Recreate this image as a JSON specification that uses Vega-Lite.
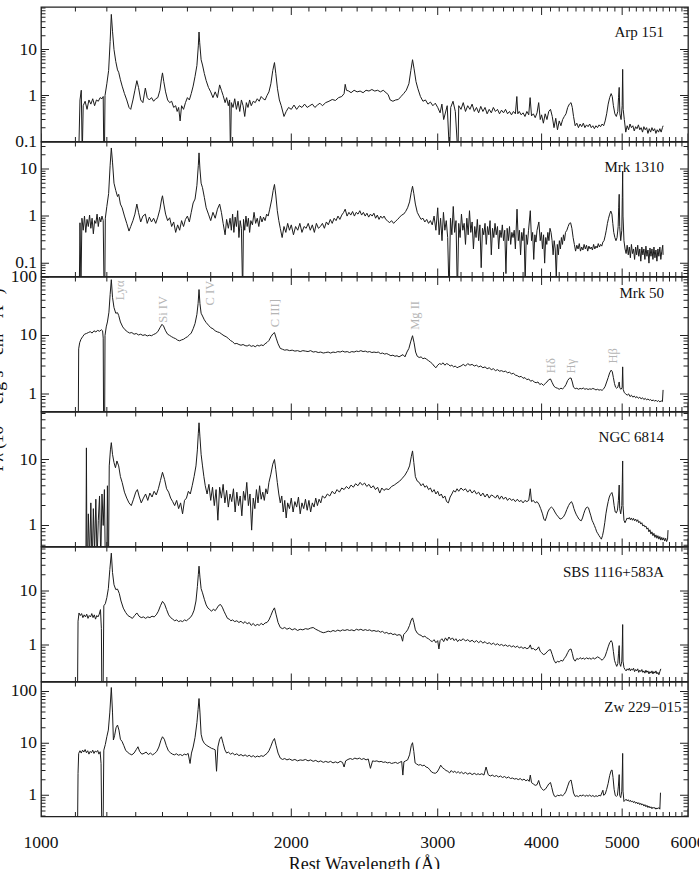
{
"$schema":"https://vega.github.io/schema/vega-lite/v6.json",
"background":"white",
"padding":{"left":-12,"top":6,"right":0,"bottom":0},
"bounds":"flush",
"spacing":0,
"config":{
 "view":{"stroke":"#222","strokeWidth":1.3},
 "font":"Liberation Serif",
 "title":{"font":"Liberation Serif","fontWeight":"normal","fontSize":15,"anchor":"end","color":"#111","offset":-33,"dx":-24}
},
"datasets":{
"xt":[{"v":1000},{"v":1100},{"v":1200},{"v":1300},{"v":1400},{"v":1500},{"v":1600},{"v":1700},{"v":1800},{"v":1900},{"v":2000},{"v":2100},{"v":2200},{"v":2300},{"v":2400},{"v":2500},{"v":2600},{"v":2700},{"v":2800},{"v":2900},{"v":3000},{"v":3100},{"v":3200},{"v":3300},{"v":3400},{"v":3500},{"v":3600},{"v":3700},{"v":3800},{"v":3900},{"v":4000},{"v":4100},{"v":4200},{"v":4300},{"v":4400},{"v":4500},{"v":4600},{"v":4700},{"v":4800},{"v":4900},{"v":5000},{"v":5100},{"v":5200},{"v":5300},{"v":5400},{"v":5500},{"v":5600},{"v":5700},{"v":5800},{"v":5900},{"v":6000}],
"yt":[{"v":0.06},{"v":0.07},{"v":0.08},{"v":0.09},{"v":0.1},{"v":0.2},{"v":0.3},{"v":0.4},{"v":0.5},{"v":0.6},{"v":0.7},{"v":0.8},{"v":0.9},{"v":1},{"v":2},{"v":3},{"v":4},{"v":5},{"v":6},{"v":7},{"v":8},{"v":9},{"v":10},{"v":20},{"v":30},{"v":40},{"v":50},{"v":60},{"v":70},{"v":80},{"v":90},{"v":100}],
"ylab":[{"v":0.1},{"v":1},{"v":10},{"v":100}],
"xlab":[{"v":1000},{"v":2000},{"v":3000},{"v":4000},{"v":5000},{"v":6000}],
"lines":[{"t":"Lyα","w":1245,"f":59},{"t":"Si IV","w":1402,"f":28},{"t":"C IV","w":1597,"f":53},{"t":"C III]","w":1914,"f":24},{"t":"Mg II","w":2821,"f":22},{"t":"Hδ","w":4106,"f":3.04},{"t":"Hγ","w":4340,"f":2.98},{"t":"Hβ","w":4875,"f":4.5}],
"arp":[{"w":1110,"f":0.05},{"w":1114,"f":0.8},{"w":1118,"f":1.3},{"w":1121,"f":0.05},{"w":1124,"f":0.6},{"w":1130,"f":0.75},{"w":1136,"f":0.5},{"w":1142,"f":0.8},{"w":1148,"f":0.65},{"w":1154,"f":0.85},{"w":1160,"f":0.6},{"w":1166,"f":0.8},{"w":1172,"f":0.75},{"w":1178,"f":0.9},{"w":1184,"f":0.85},{"w":1188,"f":0.95},{"w":1190,"f":0.05},{"w":1192,"f":0.05},{"w":1194,"f":1.0},{"w":1200,"f":1.8},{"w":1206,"f":3.5},{"w":1211,"f":15},{"w":1215,"f":58},{"w":1219,"f":25},{"w":1224,"f":10},{"w":1230,"f":5.5},{"w":1236,"f":3.6},{"w":1240,"f":3.2},{"w":1246,"f":2.2},{"w":1252,"f":1.6},{"w":1260,"f":1.1},{"w":1268,"f":0.8},{"w":1276,"f":0.55},{"w":1282,"f":0.5},{"w":1290,"f":0.8},{"w":1297,"f":1.3},{"w":1304,"f":2.1},{"w":1310,"f":1.5},{"w":1318,"f":0.8},{"w":1326,"f":0.7},{"w":1335,"f":1.45},{"w":1342,"f":0.9},{"w":1350,"f":0.8},{"w":1358,"f":0.9},{"w":1366,"f":0.75},{"w":1374,"f":0.85},{"w":1382,"f":0.9},{"w":1390,"f":1.3},{"w":1396,"f":2.3},{"w":1400,"f":3.1},{"w":1405,"f":2.0},{"w":1412,"f":1.2},{"w":1420,"f":0.8},{"w":1428,"f":0.7},{"w":1436,"f":0.75},{"w":1444,"f":0.55},{"w":1452,"f":0.6},{"w":1458,"f":0.45},{"w":1464,"f":0.55},{"w":1470,"f":0.28},{"w":1476,"f":0.6},{"w":1484,"f":0.5},{"w":1492,"f":0.7},{"w":1500,"f":0.9},{"w":1508,"f":0.8},{"w":1516,"f":1.1},{"w":1524,"f":1.6},{"w":1532,"f":2.6},{"w":1540,"f":4.5},{"w":1546,"f":12},{"w":1549,"f":24},{"w":1552,"f":14},{"w":1558,"f":6},{"w":1564,"f":4.6},{"w":1572,"f":3},{"w":1580,"f":2.1},{"w":1590,"f":1.5},{"w":1600,"f":1.2},{"w":1610,"f":0.9},{"w":1620,"f":1.2},{"w":1630,"f":0.9},{"w":1640,"f":1.7},{"w":1648,"f":1.3},{"w":1656,"f":1.0},{"w":1665,"f":0.7},{"w":1672,"f":0.9},{"w":1680,"f":0.6},{"w":1686,"f":0.8},{"w":1690,"f":0.05},{"w":1694,"f":0.7},{"w":1702,"f":0.55},{"w":1710,"f":0.85},{"w":1718,"f":0.5},{"w":1726,"f":0.75},{"w":1734,"f":0.45},{"w":1742,"f":0.8},{"w":1750,"f":0.6},{"w":1758,"f":0.35},{"w":1766,"f":0.7},{"w":1774,"f":0.55},{"w":1782,"f":0.8},{"w":1790,"f":0.6},{"w":1800,"f":0.75},{"w":1810,"f":0.7},{"w":1820,"f":0.85},{"w":1830,"f":0.75},{"w":1840,"f":0.95},{"w":1850,"f":0.85},{"w":1860,"f":0.8},{"w":1870,"f":1.0},{"w":1880,"f":1.2},{"w":1890,"f":1.8},{"w":1900,"f":3.5},{"w":1909,"f":5.2},{"w":1916,"f":3.0},{"w":1925,"f":1.4},{"w":1935,"f":0.8},{"w":1945,"f":0.6},{"w":1960,"f":0.35},{"w":1972,"f":0.45},{"w":1985,"f":0.55},{"w":2000,"f":0.5},{"w":2015,"f":0.62},{"w":2030,"f":0.5},{"w":2045,"f":0.6},{"w":2060,"f":0.55},{"w":2075,"f":0.65},{"w":2090,"f":0.55},{"w":2105,"f":0.6},{"w":2120,"f":0.65},{"w":2135,"f":0.55},{"w":2150,"f":0.62},{"w":2165,"f":0.68},{"w":2180,"f":0.6},{"w":2200,"f":0.7},{"w":2220,"f":0.75},{"w":2240,"f":0.82},{"w":2260,"f":0.78},{"w":2280,"f":0.9},{"w":2300,"f":0.95},{"w":2315,"f":1.1},{"w":2322,"f":1.75},{"w":2330,"f":1.3},{"w":2345,"f":1.25},{"w":2360,"f":1.15},{"w":2380,"f":1.3},{"w":2400,"f":1.2},{"w":2420,"f":1.25},{"w":2440,"f":1.15},{"w":2460,"f":1.3},{"w":2480,"f":1.25},{"w":2500,"f":1.35},{"w":2520,"f":1.25},{"w":2540,"f":1.3},{"w":2560,"f":1.2},{"w":2580,"f":1.3},{"w":2600,"f":1.15},{"w":2615,"f":1.05},{"w":2630,"f":0.8},{"w":2650,"f":0.75},{"w":2670,"f":0.8},{"w":2690,"f":0.82},{"w":2710,"f":0.95},{"w":2730,"f":1.1},{"w":2750,"f":1.3},{"w":2770,"f":1.8},{"w":2785,"f":3.5},{"w":2798,"f":6.0},{"w":2810,"f":3.8},{"w":2825,"f":2.0},{"w":2840,"f":1.4},{"w":2860,"f":0.95},{"w":2880,"f":0.75},{"w":2900,"f":0.8},{"w":2920,"f":0.65},{"w":2940,"f":0.72},{"w":2960,"f":0.6},{"w":2980,"f":0.68},{"w":3000,"f":0.55},{"w":3020,"f":0.42},{"w":3035,"f":0.65},{"w":3050,"f":0.3},{"w":3080,"f":0.6},{"w":3100,"f":0.05},{"w":3110,"f":0.55},{"w":3130,"f":0.75},{"w":3150,"f":0.45},{"w":3173,"f":0.05},{"w":3180,"f":0.6},{"w":3200,"f":0.5},{"w":3220,"f":0.7},{"w":3240,"f":0.45},{"w":3260,"f":0.6},{"w":3280,"f":0.5},{"w":3300,"f":0.65},{"w":3320,"f":0.45},{"w":3340,"f":0.55},{"w":3360,"f":0.42},{"w":3380,"f":0.58},{"w":3400,"f":0.45},{"w":3420,"f":0.55},{"w":3440,"f":0.4},{"w":3460,"f":0.5},{"w":3480,"f":0.42},{"w":3500,"f":0.55},{"w":3520,"f":0.45},{"w":3540,"f":0.5},{"w":3560,"f":0.4},{"w":3580,"f":0.48},{"w":3600,"f":0.42},{"w":3620,"f":0.5},{"w":3640,"f":0.4},{"w":3660,"f":0.45},{"w":3680,"f":0.38},{"w":3700,"f":0.45},{"w":3720,"f":0.4},{"w":3735,"f":0.95},{"w":3745,"f":0.4},{"w":3760,"f":0.45},{"w":3780,"f":0.38},{"w":3800,"f":0.42},{"w":3820,"f":0.35},{"w":3840,"f":0.45},{"w":3860,"f":0.38},{"w":3875,"f":0.9},{"w":3890,"f":0.36},{"w":3910,"f":0.4},{"w":3930,"f":0.33},{"w":3950,"f":0.42},{"w":3968,"f":0.7},{"w":3985,"f":0.3},{"w":4000,"f":0.38},{"w":4020,"f":0.25},{"w":4040,"f":0.4},{"w":4060,"f":0.3},{"w":4080,"f":0.45},{"w":4100,"f":0.5},{"w":4120,"f":0.35},{"w":4140,"f":0.2},{"w":4160,"f":0.32},{"w":4180,"f":0.18},{"w":4200,"f":0.28},{"w":4220,"f":0.22},{"w":4240,"f":0.3},{"w":4260,"f":0.35},{"w":4280,"f":0.4},{"w":4300,"f":0.55},{"w":4320,"f":0.65},{"w":4340,"f":0.7},{"w":4355,"f":0.55},{"w":4370,"f":0.35},{"w":4390,"f":0.22},{"w":4410,"f":0.25},{"w":4430,"f":0.2},{"w":4450,"f":0.24},{"w":4470,"f":0.21},{"w":4490,"f":0.25},{"w":4510,"f":0.2},{"w":4530,"f":0.23},{"w":4550,"f":0.21},{"w":4570,"f":0.24},{"w":4590,"f":0.2},{"w":4610,"f":0.22},{"w":4630,"f":0.19},{"w":4650,"f":0.22},{"w":4670,"f":0.2},{"w":4690,"f":0.23},{"w":4710,"f":0.21},{"w":4730,"f":0.24},{"w":4750,"f":0.22},{"w":4770,"f":0.28},{"w":4790,"f":0.4},{"w":4810,"f":0.65},{"w":4830,"f":0.9},{"w":4850,"f":1.1},{"w":4865,"f":0.95},{"w":4880,"f":0.6},{"w":4900,"f":0.4},{"w":4920,"f":0.35},{"w":4940,"f":0.45},{"w":4950,"f":0.9},{"w":4959,"f":1.5},{"w":4968,"f":0.4},{"w":4985,"f":0.3},{"w":5000,"f":0.6},{"w":5007,"f":3.7},{"w":5014,"f":0.5},{"w":5030,"f":0.3},{"w":5050,"f":0.16},{"w":5070,"f":0.22},{"w":5090,"f":0.18},{"w":5110,"f":0.24},{"w":5130,"f":0.2},{"w":5150,"f":0.22},{"w":5170,"f":0.17},{"w":5190,"f":0.21},{"w":5210,"f":0.19},{"w":5230,"f":0.23},{"w":5250,"f":0.18},{"w":5270,"f":0.2},{"w":5290,"f":0.16},{"w":5310,"f":0.21},{"w":5330,"f":0.18},{"w":5350,"f":0.2},{"w":5370,"f":0.15},{"w":5390,"f":0.19},{"w":5410,"f":0.16},{"w":5430,"f":0.2},{"w":5450,"f":0.17},{"w":5470,"f":0.19},{"w":5490,"f":0.15},{"w":5510,"f":0.18},{"w":5530,"f":0.16},{"w":5550,"f":0.19},{"w":5570,"f":0.16},{"w":5590,"f":0.2},{"w":5600,"f":0.22}],
"mrk1310":[{"w":1112,"f":0.03},{"w":1114,"f":0.72},{"w":1117,"f":0.03},{"w":1120,"f":0.9},{"w":1124,"f":0.5},{"w":1128,"f":1.0},{"w":1132,"f":0.45},{"w":1136,"f":0.85},{"w":1140,"f":0.6},{"w":1144,"f":1.05},{"w":1148,"f":0.55},{"w":1152,"f":0.9},{"w":1156,"f":0.42},{"w":1160,"f":0.8},{"w":1164,"f":0.7},{"w":1168,"f":1.1},{"w":1172,"f":0.6},{"w":1176,"f":0.95},{"w":1180,"f":0.75},{"w":1184,"f":1.0},{"w":1188,"f":0.8},{"w":1191,"f":0.02},{"w":1193,"f":0.02},{"w":1195,"f":0.9},{"w":1200,"f":1.6},{"w":1206,"f":3.0},{"w":1211,"f":12},{"w":1215,"f":28},{"w":1219,"f":14},{"w":1224,"f":5},{"w":1230,"f":3.5},{"w":1236,"f":2.6},{"w":1240,"f":2.9},{"w":1246,"f":1.8},{"w":1252,"f":1.5},{"w":1260,"f":1.0},{"w":1268,"f":0.7},{"w":1276,"f":0.48},{"w":1282,"f":0.6},{"w":1290,"f":0.8},{"w":1297,"f":1.1},{"w":1304,"f":1.8},{"w":1310,"f":1.2},{"w":1318,"f":0.75},{"w":1326,"f":1.0},{"w":1335,"f":1.1},{"w":1342,"f":0.7},{"w":1350,"f":0.95},{"w":1358,"f":0.75},{"w":1366,"f":0.9},{"w":1374,"f":0.7},{"w":1382,"f":0.95},{"w":1390,"f":1.4},{"w":1396,"f":2.2},{"w":1400,"f":2.7},{"w":1405,"f":1.8},{"w":1412,"f":1.1},{"w":1420,"f":0.8},{"w":1428,"f":0.92},{"w":1436,"f":0.6},{"w":1444,"f":0.75},{"w":1452,"f":0.45},{"w":1460,"f":0.65},{"w":1468,"f":0.5},{"w":1476,"f":0.8},{"w":1484,"f":0.6},{"w":1492,"f":0.85},{"w":1500,"f":1.0},{"w":1508,"f":0.75},{"w":1516,"f":1.2},{"w":1524,"f":1.9},{"w":1532,"f":2.3},{"w":1540,"f":4.5},{"w":1546,"f":12},{"w":1549,"f":22},{"w":1553,"f":10},{"w":1558,"f":5},{"w":1564,"f":4},{"w":1572,"f":2.5},{"w":1580,"f":1.5},{"w":1590,"f":1.1},{"w":1600,"f":0.8},{"w":1610,"f":1.2},{"w":1620,"f":0.9},{"w":1630,"f":1.4},{"w":1640,"f":1.8},{"w":1648,"f":1.2},{"w":1656,"f":0.7},{"w":1665,"f":0.4},{"w":1672,"f":0.85},{"w":1680,"f":0.55},{"w":1688,"f":0.9},{"w":1694,"f":0.5},{"w":1700,"f":1.1},{"w":1706,"f":0.45},{"w":1712,"f":0.95},{"w":1718,"f":0.6},{"w":1724,"f":1.3},{"w":1730,"f":0.35},{"w":1736,"f":0.8},{"w":1742,"f":0.55},{"w":1748,"f":0.02},{"w":1752,"f":0.85},{"w":1758,"f":0.5},{"w":1764,"f":1.0},{"w":1770,"f":0.6},{"w":1776,"f":0.9},{"w":1782,"f":0.45},{"w":1788,"f":0.8},{"w":1796,"f":0.65},{"w":1804,"f":1.2},{"w":1812,"f":0.7},{"w":1820,"f":0.9},{"w":1828,"f":0.6},{"w":1836,"f":1.0},{"w":1844,"f":0.75},{"w":1852,"f":0.95},{"w":1860,"f":0.8},{"w":1868,"f":1.1},{"w":1876,"f":1.0},{"w":1884,"f":1.4},{"w":1894,"f":2.2},{"w":1902,"f":3.5},{"w":1909,"f":4.7},{"w":1916,"f":2.8},{"w":1924,"f":1.3},{"w":1932,"f":0.8},{"w":1940,"f":0.55},{"w":1950,"f":0.35},{"w":1960,"f":0.6},{"w":1970,"f":0.45},{"w":1980,"f":0.7},{"w":1990,"f":0.5},{"w":2000,"f":0.65},{"w":2012,"f":0.4},{"w":2024,"f":0.6},{"w":2036,"f":0.5},{"w":2048,"f":0.7},{"w":2060,"f":0.45},{"w":2072,"f":0.6},{"w":2084,"f":0.55},{"w":2096,"f":0.7},{"w":2108,"f":0.5},{"w":2120,"f":0.65},{"w":2132,"f":0.45},{"w":2144,"f":0.7},{"w":2156,"f":0.55},{"w":2168,"f":0.6},{"w":2180,"f":0.7},{"w":2192,"f":0.55},{"w":2204,"f":0.75},{"w":2216,"f":0.65},{"w":2228,"f":0.85},{"w":2240,"f":0.7},{"w":2252,"f":0.9},{"w":2264,"f":0.8},{"w":2276,"f":1.0},{"w":2288,"f":0.85},{"w":2300,"f":1.05},{"w":2312,"f":1.2},{"w":2322,"f":1.4},{"w":2334,"f":1.0},{"w":2346,"f":1.2},{"w":2358,"f":1.05},{"w":2370,"f":1.25},{"w":2382,"f":1.0},{"w":2394,"f":1.2},{"w":2406,"f":1.1},{"w":2418,"f":1.3},{"w":2430,"f":1.05},{"w":2442,"f":1.2},{"w":2454,"f":1.0},{"w":2466,"f":1.15},{"w":2478,"f":0.95},{"w":2490,"f":1.1},{"w":2502,"f":1.0},{"w":2514,"f":1.15},{"w":2526,"f":0.9},{"w":2538,"f":1.05},{"w":2550,"f":0.85},{"w":2562,"f":1.0},{"w":2574,"f":0.9},{"w":2586,"f":1.0},{"w":2598,"f":0.85},{"w":2610,"f":0.8},{"w":2625,"f":0.72},{"w":2640,"f":0.8},{"w":2655,"f":0.7},{"w":2670,"f":0.78},{"w":2685,"f":0.85},{"w":2700,"f":0.95},{"w":2715,"f":1.05},{"w":2730,"f":1.1},{"w":2745,"f":1.25},{"w":2760,"f":1.5},{"w":2775,"f":2.0},{"w":2788,"f":3.2},{"w":2798,"f":4.3},{"w":2808,"f":3.0},{"w":2820,"f":1.8},{"w":2835,"f":1.2},{"w":2850,"f":1.0},{"w":2865,"f":0.85},{"w":2880,"f":0.9},{"w":2895,"f":0.75},{"w":2910,"f":0.85},{"w":2925,"f":0.7},{"w":2940,"f":0.8},{"w":2955,"f":0.65},{"w":2970,"f":1.0},{"w":2985,"f":0.5},{"w":3000,"f":1.5},{"w":3012,"f":0.4},{"w":3024,"f":0.9},{"w":3036,"f":0.3},{"w":3048,"f":1.2},{"w":3060,"f":0.5},{"w":3072,"f":0.8},{"w":3084,"f":0.35},{"w":3096,"f":0.02},{"w":3108,"f":0.9},{"w":3120,"f":0.4},{"w":3132,"f":1.6},{"w":3144,"f":0.45},{"w":3156,"f":0.8},{"w":3168,"f":0.02},{"w":3180,"f":0.7},{"w":3192,"f":0.35},{"w":3204,"f":1.1},{"w":3216,"f":0.5},{"w":3228,"f":0.7},{"w":3240,"f":0.25},{"w":3252,"f":0.9},{"w":3264,"f":0.4},{"w":3276,"f":1.3},{"w":3288,"f":0.45},{"w":3300,"f":0.75},{"w":3312,"f":0.2},{"w":3324,"f":0.6},{"w":3336,"f":0.35},{"w":3348,"f":0.85},{"w":3360,"f":0.3},{"w":3372,"f":0.65},{"w":3384,"f":0.08},{"w":3396,"f":0.55},{"w":3408,"f":0.4},{"w":3420,"f":0.7},{"w":3432,"f":0.25},{"w":3444,"f":0.6},{"w":3456,"f":0.4},{"w":3468,"f":0.8},{"w":3480,"f":0.15},{"w":3492,"f":0.55},{"w":3504,"f":0.35},{"w":3516,"f":0.7},{"w":3528,"f":0.4},{"w":3540,"f":0.6},{"w":3552,"f":0.2},{"w":3564,"f":0.5},{"w":3576,"f":0.35},{"w":3588,"f":0.65},{"w":3600,"f":0.3},{"w":3612,"f":0.5},{"w":3624,"f":0.06},{"w":3636,"f":0.55},{"w":3648,"f":0.3},{"w":3660,"f":0.6},{"w":3672,"f":0.25},{"w":3684,"f":0.45},{"w":3696,"f":0.35},{"w":3708,"f":0.5},{"w":3720,"f":0.2},{"w":3737,"f":1.4},{"w":3750,"f":0.3},{"w":3762,"f":0.5},{"w":3774,"f":0.15},{"w":3786,"f":0.45},{"w":3798,"f":0.3},{"w":3810,"f":0.55},{"w":3822,"f":0.04},{"w":3834,"f":0.4},{"w":3846,"f":0.25},{"w":3858,"f":0.5},{"w":3877,"f":1.3},{"w":3890,"f":0.3},{"w":3902,"f":0.45},{"w":3914,"f":0.12},{"w":3926,"f":0.4},{"w":3938,"f":0.28},{"w":3950,"f":0.5},{"w":3970,"f":0.75},{"w":3985,"f":0.3},{"w":3998,"f":0.45},{"w":4010,"f":0.2},{"w":4022,"f":0.4},{"w":4034,"f":0.1},{"w":4046,"f":0.35},{"w":4058,"f":0.25},{"w":4070,"f":0.45},{"w":4082,"f":0.3},{"w":4094,"f":0.55},{"w":4106,"f":0.45},{"w":4118,"f":0.3},{"w":4130,"f":0.15},{"w":4142,"f":0.3},{"w":4154,"f":0.2},{"w":4166,"f":0.05},{"w":4178,"f":0.25},{"w":4190,"f":0.15},{"w":4202,"f":0.3},{"w":4214,"f":0.2},{"w":4226,"f":0.35},{"w":4238,"f":0.25},{"w":4250,"f":0.4},{"w":4262,"f":0.3},{"w":4274,"f":0.45},{"w":4290,"f":0.5},{"w":4305,"f":0.6},{"w":4320,"f":0.7},{"w":4335,"f":0.72},{"w":4350,"f":0.55},{"w":4365,"f":0.35},{"w":4380,"f":0.25},{"w":4395,"f":0.18},{"w":4410,"f":0.24},{"w":4425,"f":0.2},{"w":4440,"f":0.26},{"w":4455,"f":0.18},{"w":4470,"f":0.22},{"w":4485,"f":0.19},{"w":4500,"f":0.25},{"w":4515,"f":0.2},{"w":4530,"f":0.24},{"w":4545,"f":0.18},{"w":4560,"f":0.23},{"w":4575,"f":0.2},{"w":4590,"f":0.22},{"w":4605,"f":0.19},{"w":4620,"f":0.25},{"w":4635,"f":0.2},{"w":4650,"f":0.23},{"w":4665,"f":0.21},{"w":4680,"f":0.26},{"w":4695,"f":0.22},{"w":4710,"f":0.25},{"w":4725,"f":0.23},{"w":4740,"f":0.28},{"w":4755,"f":0.3},{"w":4770,"f":0.38},{"w":4785,"f":0.5},{"w":4800,"f":0.7},{"w":4815,"f":0.9},{"w":4830,"f":1.1},{"w":4845,"f":1.28},{"w":4860,"f":1.1},{"w":4872,"f":0.7},{"w":4885,"f":0.45},{"w":4900,"f":0.35},{"w":4915,"f":0.3},{"w":4930,"f":0.35},{"w":4945,"f":0.6},{"w":4952,"f":1.5},{"w":4959,"f":2.9},{"w":4966,"f":0.6},{"w":4980,"f":0.3},{"w":4995,"f":0.5},{"w":5002,"f":2.5},{"w":5007,"f":9.0},{"w":5012,"f":1.0},{"w":5025,"f":0.3},{"w":5040,"f":0.2},{"w":5055,"f":0.16},{"w":5070,"f":0.24},{"w":5085,"f":0.15},{"w":5100,"f":0.22},{"w":5115,"f":0.13},{"w":5130,"f":0.25},{"w":5145,"f":0.16},{"w":5160,"f":0.2},{"w":5175,"f":0.12},{"w":5190,"f":0.22},{"w":5205,"f":0.15},{"w":5220,"f":0.24},{"w":5235,"f":0.14},{"w":5250,"f":0.2},{"w":5265,"f":0.11},{"w":5280,"f":0.22},{"w":5295,"f":0.15},{"w":5310,"f":0.2},{"w":5325,"f":0.12},{"w":5340,"f":0.23},{"w":5355,"f":0.14},{"w":5370,"f":0.19},{"w":5385,"f":0.1},{"w":5400,"f":0.21},{"w":5415,"f":0.14},{"w":5430,"f":0.2},{"w":5445,"f":0.12},{"w":5460,"f":0.22},{"w":5475,"f":0.13},{"w":5490,"f":0.19},{"w":5505,"f":0.11},{"w":5520,"f":0.2},{"w":5535,"f":0.14},{"w":5550,"f":0.22},{"w":5565,"f":0.12},{"w":5580,"f":0.18},{"w":5595,"f":0.24},{"w":5600,"f":0.15}],
"mrk50":[{"w":1108,"f":0.05},{"w":1110,"f":5.9},{"w":1113,"f":7.5},{"w":1117,"f":8.6},{"w":1122,"f":9.5},{"w":1128,"f":10.5},{"w":1134,"f":10.8},{"w":1140,"f":11.2},{"w":1146,"f":11.6},{"w":1152,"f":11.0},{"w":1158,"f":12.0},{"w":1164,"f":11.5},{"w":1170,"f":12.2},{"w":1176,"f":11.8},{"w":1182,"f":12.5},{"w":1186,"f":12.0},{"w":1188,"f":9},{"w":1190,"f":0.05},{"w":1192,"f":0.05},{"w":1194,"f":10},{"w":1198,"f":14},{"w":1202,"f":17},{"w":1207,"f":25},{"w":1211,"f":50},{"w":1215,"f":90},{"w":1219,"f":45},{"w":1224,"f":30},{"w":1230,"f":24},{"w":1236,"f":24.5},{"w":1240,"f":22},{"w":1246,"f":17},{"w":1254,"f":14},{"w":1262,"f":12.5},{"w":1270,"f":11.6},{"w":1278,"f":11.0},{"w":1286,"f":11.2},{"w":1294,"f":10.5},{"w":1302,"f":10.8},{"w":1310,"f":10.2},{"w":1318,"f":10.5},{"w":1326,"f":10.0},{"w":1334,"f":10.3},{"w":1342,"f":9.8},{"w":1350,"f":10.1},{"w":1358,"f":9.9},{"w":1366,"f":10.4},{"w":1374,"f":10.8},{"w":1382,"f":11.6},{"w":1390,"f":13.5},{"w":1398,"f":15.5},{"w":1404,"f":14.5},{"w":1412,"f":12.0},{"w":1420,"f":10.5},{"w":1428,"f":10.0},{"w":1436,"f":9.5},{"w":1444,"f":9.1},{"w":1452,"f":8.8},{"w":1460,"f":8.3},{"w":1468,"f":8.1},{"w":1476,"f":8.4},{"w":1484,"f":8.6},{"w":1492,"f":9.1},{"w":1500,"f":9.5},{"w":1508,"f":10.2},{"w":1516,"f":11.0},{"w":1524,"f":13},{"w":1532,"f":16},{"w":1540,"f":23},{"w":1545,"f":35},{"w":1549,"f":61},{"w":1553,"f":35},{"w":1558,"f":24},{"w":1564,"f":21.5},{"w":1572,"f":18.5},{"w":1580,"f":16.6},{"w":1590,"f":15.0},{"w":1600,"f":13.6},{"w":1610,"f":13.0},{"w":1620,"f":12.0},{"w":1630,"f":11.5},{"w":1640,"f":11.2},{"w":1650,"f":10.5},{"w":1660,"f":9.9},{"w":1670,"f":9.5},{"w":1680,"f":8.9},{"w":1690,"f":8.2},{"w":1700,"f":7.8},{"w":1710,"f":7.2},{"w":1720,"f":7.3},{"w":1730,"f":7.0},{"w":1740,"f":6.8},{"w":1750,"f":7.0},{"w":1760,"f":6.7},{"w":1770,"f":6.6},{"w":1780,"f":6.9},{"w":1790,"f":6.5},{"w":1800,"f":6.7},{"w":1810,"f":6.4},{"w":1820,"f":6.8},{"w":1830,"f":6.6},{"w":1840,"f":6.9},{"w":1850,"f":6.7},{"w":1860,"f":7.2},{"w":1870,"f":7.6},{"w":1880,"f":8.2},{"w":1890,"f":9.5},{"w":1900,"f":10.6},{"w":1909,"f":11.2},{"w":1918,"f":9.0},{"w":1928,"f":7.2},{"w":1940,"f":6.0},{"w":1952,"f":5.8},{"w":1964,"f":5.6},{"w":1976,"f":5.7},{"w":1990,"f":5.5},{"w":2005,"f":5.6},{"w":2020,"f":5.4},{"w":2035,"f":5.5},{"w":2050,"f":5.3},{"w":2065,"f":5.5},{"w":2080,"f":5.4},{"w":2095,"f":5.3},{"w":2110,"f":5.5},{"w":2125,"f":5.2},{"w":2140,"f":5.3},{"w":2155,"f":5.1},{"w":2170,"f":5.2},{"w":2185,"f":5.0},{"w":2200,"f":5.1},{"w":2215,"f":5.2},{"w":2230,"f":5.0},{"w":2245,"f":5.2},{"w":2260,"f":5.1},{"w":2275,"f":5.3},{"w":2290,"f":5.2},{"w":2305,"f":5.4},{"w":2320,"f":5.2},{"w":2335,"f":5.3},{"w":2350,"f":5.1},{"w":2365,"f":5.3},{"w":2380,"f":5.2},{"w":2395,"f":5.4},{"w":2410,"f":5.3},{"w":2425,"f":5.5},{"w":2440,"f":5.3},{"w":2455,"f":5.4},{"w":2470,"f":5.2},{"w":2485,"f":5.3},{"w":2500,"f":5.1},{"w":2515,"f":5.2},{"w":2530,"f":5.1},{"w":2545,"f":5.2},{"w":2560,"f":4.9},{"w":2575,"f":5.0},{"w":2590,"f":4.8},{"w":2605,"f":4.9},{"w":2620,"f":4.7},{"w":2635,"f":4.5},{"w":2650,"f":4.6},{"w":2665,"f":4.4},{"w":2680,"f":4.5},{"w":2695,"f":4.3},{"w":2710,"f":4.5},{"w":2725,"f":4.7},{"w":2740,"f":4.3},{"w":2755,"f":5.2},{"w":2770,"f":6.0},{"w":2785,"f":8.0},{"w":2798,"f":9.9},{"w":2810,"f":7.5},{"w":2822,"f":5.2},{"w":2835,"f":4.4},{"w":2850,"f":4.2},{"w":2865,"f":4.3},{"w":2880,"f":4.0},{"w":2895,"f":4.1},{"w":2910,"f":3.9},{"w":2925,"f":3.7},{"w":2940,"f":3.5},{"w":2955,"f":3.3},{"w":2970,"f":3.0},{"w":2985,"f":2.8},{"w":3000,"f":3.1},{"w":3015,"f":3.3},{"w":3030,"f":3.2},{"w":3045,"f":3.4},{"w":3060,"f":3.1},{"w":3075,"f":3.3},{"w":3090,"f":3.2},{"w":3105,"f":3.0},{"w":3120,"f":3.1},{"w":3135,"f":2.9},{"w":3150,"f":3.0},{"w":3165,"f":2.8},{"w":3180,"f":2.9},{"w":3200,"f":3.0},{"w":3220,"f":3.2},{"w":3240,"f":3.0},{"w":3260,"f":3.3},{"w":3280,"f":3.1},{"w":3300,"f":3.2},{"w":3320,"f":3.0},{"w":3340,"f":3.1},{"w":3360,"f":2.9},{"w":3380,"f":3.0},{"w":3400,"f":2.8},{"w":3420,"f":2.9},{"w":3440,"f":2.7},{"w":3460,"f":2.8},{"w":3480,"f":2.6},{"w":3500,"f":2.7},{"w":3520,"f":2.5},{"w":3540,"f":2.6},{"w":3560,"f":2.45},{"w":3580,"f":2.5},{"w":3600,"f":2.4},{"w":3620,"f":2.45},{"w":3640,"f":2.3},{"w":3660,"f":2.35},{"w":3680,"f":2.2},{"w":3700,"f":2.25},{"w":3720,"f":2.1},{"w":3740,"f":2.05},{"w":3760,"f":1.95},{"w":3780,"f":2.0},{"w":3800,"f":1.85},{"w":3820,"f":1.9},{"w":3840,"f":1.75},{"w":3860,"f":1.8},{"w":3880,"f":1.65},{"w":3900,"f":1.7},{"w":3920,"f":1.6},{"w":3940,"f":1.55},{"w":3960,"f":1.6},{"w":3980,"f":1.45},{"w":4000,"f":1.5},{"w":4020,"f":1.4},{"w":4040,"f":1.5},{"w":4060,"f":1.6},{"w":4080,"f":1.75},{"w":4100,"f":1.8},{"w":4120,"f":1.55},{"w":4140,"f":1.35},{"w":4160,"f":1.28},{"w":4180,"f":1.25},{"w":4200,"f":1.2},{"w":4220,"f":1.25},{"w":4240,"f":1.22},{"w":4260,"f":1.3},{"w":4280,"f":1.45},{"w":4300,"f":1.7},{"w":4320,"f":1.85},{"w":4340,"f":1.87},{"w":4355,"f":1.6},{"w":4370,"f":1.3},{"w":4390,"f":1.23},{"w":4410,"f":1.25},{"w":4430,"f":1.2},{"w":4450,"f":1.24},{"w":4470,"f":1.22},{"w":4490,"f":1.26},{"w":4510,"f":1.2},{"w":4530,"f":1.23},{"w":4550,"f":1.19},{"w":4570,"f":1.22},{"w":4590,"f":1.2},{"w":4610,"f":1.24},{"w":4630,"f":1.21},{"w":4650,"f":1.17},{"w":4670,"f":1.2},{"w":4690,"f":1.16},{"w":4710,"f":1.18},{"w":4730,"f":1.15},{"w":4750,"f":1.22},{"w":4770,"f":1.35},{"w":4790,"f":1.6},{"w":4810,"f":1.9},{"w":4830,"f":2.3},{"w":4850,"f":2.55},{"w":4865,"f":2.4},{"w":4880,"f":1.9},{"w":4895,"f":1.5},{"w":4910,"f":1.3},{"w":4925,"f":1.25},{"w":4940,"f":1.3},{"w":4950,"f":1.45},{"w":4959,"f":1.6},{"w":4968,"f":1.25},{"w":4985,"f":1.2},{"w":5000,"f":1.3},{"w":5007,"f":2.9},{"w":5014,"f":1.2},{"w":5030,"f":1.05},{"w":5050,"f":1.0},{"w":5070,"f":0.95},{"w":5090,"f":1.0},{"w":5110,"f":0.9},{"w":5130,"f":0.95},{"w":5150,"f":0.88},{"w":5170,"f":0.92},{"w":5190,"f":0.86},{"w":5210,"f":0.9},{"w":5230,"f":0.84},{"w":5250,"f":0.88},{"w":5270,"f":0.82},{"w":5290,"f":0.86},{"w":5310,"f":0.8},{"w":5330,"f":0.84},{"w":5350,"f":0.79},{"w":5370,"f":0.82},{"w":5390,"f":0.78},{"w":5410,"f":0.8},{"w":5430,"f":0.76},{"w":5450,"f":0.79},{"w":5470,"f":0.75},{"w":5490,"f":0.78},{"w":5510,"f":0.74},{"w":5530,"f":0.77},{"w":5550,"f":0.73},{"w":5570,"f":0.76},{"w":5590,"f":0.74},{"w":5600,"f":1.17}],
"ngc":[{"w":1132,"f":0.1},{"w":1134,"f":15},{"w":1136,"f":0.1},{"w":1140,"f":1.5},{"w":1144,"f":0.3},{"w":1148,"f":2.2},{"w":1152,"f":0.2},{"w":1156,"f":1.8},{"w":1160,"f":0.4},{"w":1164,"f":2.5},{"w":1168,"f":0.3},{"w":1172,"f":1.2},{"w":1176,"f":2.8},{"w":1180,"f":0.3},{"w":1184,"f":3.0},{"w":1188,"f":1.0},{"w":1192,"f":3.5},{"w":1196,"f":0.1},{"w":1199,"f":0.1},{"w":1202,"f":4.0},{"w":1205,"f":0.1},{"w":1208,"f":8},{"w":1212,"f":14},{"w":1215,"f":18},{"w":1219,"f":12},{"w":1224,"f":9.0},{"w":1229,"f":7.5},{"w":1234,"f":9.5},{"w":1240,"f":8.0},{"w":1246,"f":5.5},{"w":1252,"f":4.5},{"w":1260,"f":3.2},{"w":1268,"f":2.6},{"w":1276,"f":2.2},{"w":1284,"f":2.0},{"w":1292,"f":2.5},{"w":1300,"f":3.2},{"w":1306,"f":3.5},{"w":1312,"f":2.8},{"w":1320,"f":2.2},{"w":1328,"f":2.6},{"w":1336,"f":3.0},{"w":1344,"f":2.4},{"w":1352,"f":3.1},{"w":1360,"f":2.7},{"w":1368,"f":3.3},{"w":1376,"f":2.9},{"w":1384,"f":3.6},{"w":1392,"f":4.8},{"w":1400,"f":6.4},{"w":1408,"f":5.0},{"w":1416,"f":3.6},{"w":1424,"f":3.2},{"w":1432,"f":2.6},{"w":1440,"f":2.3},{"w":1448,"f":2.0},{"w":1456,"f":2.4},{"w":1464,"f":1.8},{"w":1472,"f":2.2},{"w":1480,"f":1.5},{"w":1488,"f":2.4},{"w":1496,"f":2.6},{"w":1504,"f":3.3},{"w":1512,"f":3.0},{"w":1520,"f":4.0},{"w":1528,"f":5.5},{"w":1536,"f":8.0},{"w":1542,"f":14},{"w":1546,"f":25},{"w":1549,"f":36},{"w":1553,"f":22},{"w":1558,"f":12},{"w":1564,"f":8},{"w":1570,"f":5.5},{"w":1576,"f":4.0},{"w":1584,"f":3.0},{"w":1592,"f":4.2},{"w":1600,"f":2.4},{"w":1608,"f":3.8},{"w":1616,"f":2.0},{"w":1624,"f":3.5},{"w":1632,"f":1.2},{"w":1640,"f":3.8},{"w":1648,"f":2.6},{"w":1656,"f":4.2},{"w":1664,"f":2.2},{"w":1672,"f":3.4},{"w":1680,"f":1.9},{"w":1688,"f":3.0},{"w":1696,"f":2.3},{"w":1704,"f":3.6},{"w":1712,"f":1.6},{"w":1720,"f":3.2},{"w":1728,"f":2.0},{"w":1736,"f":2.8},{"w":1744,"f":1.4},{"w":1752,"f":3.3},{"w":1760,"f":2.4},{"w":1768,"f":4.5},{"w":1776,"f":2.0},{"w":1784,"f":3.0},{"w":1792,"f":0.85},{"w":1800,"f":2.6},{"w":1808,"f":1.8},{"w":1816,"f":3.5},{"w":1824,"f":2.2},{"w":1832,"f":4.0},{"w":1840,"f":2.5},{"w":1848,"f":3.2},{"w":1856,"f":2.4},{"w":1864,"f":3.6},{"w":1872,"f":3.0},{"w":1880,"f":4.5},{"w":1890,"f":6.0},{"w":1900,"f":8.5},{"w":1909,"f":10},{"w":1916,"f":7.0},{"w":1924,"f":4.5},{"w":1932,"f":3.0},{"w":1940,"f":2.2},{"w":1948,"f":2.8},{"w":1956,"f":1.6},{"w":1964,"f":2.4},{"w":1972,"f":1.3},{"w":1980,"f":2.2},{"w":1990,"f":1.8},{"w":2000,"f":2.6},{"w":2010,"f":1.6},{"w":2020,"f":2.3},{"w":2030,"f":1.9},{"w":2040,"f":2.7},{"w":2050,"f":1.5},{"w":2060,"f":2.2},{"w":2070,"f":1.8},{"w":2080,"f":2.5},{"w":2090,"f":1.7},{"w":2100,"f":2.4},{"w":2110,"f":1.6},{"w":2120,"f":2.2},{"w":2130,"f":1.9},{"w":2140,"f":2.6},{"w":2150,"f":2.0},{"w":2160,"f":2.5},{"w":2170,"f":2.2},{"w":2180,"f":2.8},{"w":2195,"f":2.6},{"w":2210,"f":3.0},{"w":2225,"f":2.8},{"w":2240,"f":3.3},{"w":2255,"f":3.0},{"w":2270,"f":3.5},{"w":2285,"f":3.2},{"w":2300,"f":3.7},{"w":2315,"f":3.5},{"w":2330,"f":3.9},{"w":2345,"f":3.6},{"w":2360,"f":4.1},{"w":2375,"f":3.8},{"w":2390,"f":4.3},{"w":2405,"f":4.0},{"w":2420,"f":4.5},{"w":2435,"f":4.1},{"w":2450,"f":4.4},{"w":2465,"f":3.9},{"w":2480,"f":4.2},{"w":2495,"f":3.7},{"w":2510,"f":4.0},{"w":2525,"f":3.5},{"w":2540,"f":3.8},{"w":2555,"f":3.1},{"w":2570,"f":3.7},{"w":2585,"f":3.4},{"w":2600,"f":3.6},{"w":2620,"f":3.5},{"w":2640,"f":3.9},{"w":2660,"f":4.1},{"w":2680,"f":4.4},{"w":2700,"f":4.7},{"w":2720,"f":5.2},{"w":2740,"f":5.8},{"w":2760,"f":6.8},{"w":2775,"f":8.0},{"w":2788,"f":11},{"w":2798,"f":13.5},{"w":2808,"f":9},{"w":2820,"f":5.5},{"w":2835,"f":4.7},{"w":2850,"f":4.5},{"w":2865,"f":4.0},{"w":2880,"f":4.3},{"w":2895,"f":3.8},{"w":2910,"f":4.0},{"w":2925,"f":3.5},{"w":2940,"f":3.7},{"w":2955,"f":3.2},{"w":2970,"f":3.5},{"w":2985,"f":3.0},{"w":3000,"f":3.3},{"w":3015,"f":2.8},{"w":3030,"f":3.0},{"w":3045,"f":2.6},{"w":3060,"f":2.8},{"w":3075,"f":2.3},{"w":3090,"f":2.2},{"w":3105,"f":2.7},{"w":3120,"f":3.0},{"w":3135,"f":3.4},{"w":3150,"f":3.2},{"w":3165,"f":3.6},{"w":3180,"f":3.3},{"w":3200,"f":3.7},{"w":3220,"f":3.4},{"w":3240,"f":3.6},{"w":3260,"f":3.2},{"w":3280,"f":3.5},{"w":3300,"f":3.1},{"w":3320,"f":3.4},{"w":3340,"f":3.0},{"w":3360,"f":3.2},{"w":3380,"f":2.8},{"w":3400,"f":3.1},{"w":3420,"f":2.7},{"w":3440,"f":3.0},{"w":3460,"f":2.6},{"w":3480,"f":2.9},{"w":3500,"f":2.8},{"w":3520,"f":2.6},{"w":3540,"f":2.9},{"w":3560,"f":2.5},{"w":3580,"f":2.8},{"w":3600,"f":2.5},{"w":3620,"f":2.7},{"w":3640,"f":2.4},{"w":3660,"f":2.6},{"w":3680,"f":2.4},{"w":3700,"f":2.5},{"w":3720,"f":2.3},{"w":3740,"f":2.5},{"w":3760,"f":2.3},{"w":3780,"f":2.4},{"w":3800,"f":2.2},{"w":3820,"f":2.4},{"w":3840,"f":2.3},{"w":3860,"f":2.4},{"w":3877,"f":3.6},{"w":3890,"f":2.3},{"w":3910,"f":2.4},{"w":3930,"f":2.2},{"w":3950,"f":2.3},{"w":3970,"f":2.1},{"w":3990,"f":1.8},{"w":4010,"f":1.5},{"w":4025,"f":1.25},{"w":4040,"f":1.18},{"w":4055,"f":1.35},{"w":4070,"f":1.6},{"w":4090,"f":1.8},{"w":4110,"f":1.9},{"w":4130,"f":1.8},{"w":4150,"f":1.6},{"w":4170,"f":1.45},{"w":4190,"f":1.35},{"w":4210,"f":1.25},{"w":4230,"f":1.28},{"w":4250,"f":1.35},{"w":4270,"f":1.5},{"w":4290,"f":1.75},{"w":4310,"f":2.0},{"w":4330,"f":2.2},{"w":4345,"f":2.3},{"w":4360,"f":2.1},{"w":4375,"f":1.8},{"w":4390,"f":1.6},{"w":4405,"f":1.45},{"w":4420,"f":1.35},{"w":4435,"f":1.25},{"w":4450,"f":1.2},{"w":4465,"f":1.18},{"w":4480,"f":1.3},{"w":4495,"f":1.5},{"w":4510,"f":1.7},{"w":4525,"f":1.85},{"w":4540,"f":1.9},{"w":4555,"f":1.85},{"w":4570,"f":1.6},{"w":4585,"f":1.4},{"w":4600,"f":1.2},{"w":4615,"f":1.1},{"w":4630,"f":1.0},{"w":4645,"f":0.9},{"w":4660,"f":0.8},{"w":4675,"f":0.75},{"w":4690,"f":0.7},{"w":4705,"f":0.66},{"w":4720,"f":0.62},{"w":4735,"f":0.7},{"w":4750,"f":0.85},{"w":4765,"f":1.1},{"w":4780,"f":1.5},{"w":4795,"f":1.9},{"w":4810,"f":2.3},{"w":4825,"f":2.7},{"w":4840,"f":2.95},{"w":4860,"f":3.16},{"w":4875,"f":2.7},{"w":4890,"f":2.0},{"w":4905,"f":1.6},{"w":4920,"f":1.55},{"w":4935,"f":1.7},{"w":4948,"f":2.4},{"w":4959,"f":4.1},{"w":4966,"f":1.8},{"w":4980,"f":1.5},{"w":4995,"f":2.0},{"w":5002,"f":4.5},{"w":5007,"f":9.5},{"w":5012,"f":2.0},{"w":5025,"f":1.2},{"w":5040,"f":1.1},{"w":5055,"f":1.2},{"w":5070,"f":1.3},{"w":5085,"f":1.25},{"w":5100,"f":1.32},{"w":5115,"f":1.22},{"w":5130,"f":1.3},{"w":5145,"f":1.2},{"w":5160,"f":1.28},{"w":5175,"f":1.18},{"w":5190,"f":1.25},{"w":5205,"f":1.15},{"w":5220,"f":1.22},{"w":5235,"f":1.1},{"w":5250,"f":1.15},{"w":5265,"f":1.05},{"w":5280,"f":1.1},{"w":5295,"f":0.98},{"w":5310,"f":1.02},{"w":5325,"f":0.95},{"w":5340,"f":0.98},{"w":5355,"f":0.88},{"w":5370,"f":0.92},{"w":5385,"f":0.8},{"w":5400,"f":0.86},{"w":5415,"f":0.74},{"w":5430,"f":0.8},{"w":5445,"f":0.7},{"w":5460,"f":0.76},{"w":5475,"f":0.66},{"w":5490,"f":0.72},{"w":5505,"f":0.64},{"w":5520,"f":0.7},{"w":5535,"f":0.62},{"w":5550,"f":0.68},{"w":5565,"f":0.6},{"w":5580,"f":0.66},{"w":5595,"f":0.6},{"w":5610,"f":0.65},{"w":5625,"f":0.58},{"w":5640,"f":0.64},{"w":5655,"f":0.57},{"w":5670,"f":0.62},{"w":5677,"f":0.85}],
"sbs":[{"w":1106,"f":0.05},{"w":1108,"f":2.75},{"w":1111,"f":3.9},{"w":1115,"f":3.5},{"w":1119,"f":3.8},{"w":1123,"f":3.2},{"w":1127,"f":3.6},{"w":1131,"f":3.3},{"w":1135,"f":3.7},{"w":1139,"f":3.1},{"w":1143,"f":3.5},{"w":1147,"f":3.3},{"w":1151,"f":3.8},{"w":1155,"f":3.2},{"w":1159,"f":3.6},{"w":1163,"f":3.0},{"w":1167,"f":3.5},{"w":1171,"f":3.3},{"w":1175,"f":3.7},{"w":1179,"f":4.5},{"w":1182,"f":2.0},{"w":1184,"f":0.05},{"w":1187,"f":0.05},{"w":1190,"f":5.3},{"w":1195,"f":5.8},{"w":1200,"f":7.5},{"w":1205,"f":11},{"w":1210,"f":25},{"w":1215,"f":50},{"w":1219,"f":22},{"w":1224,"f":13},{"w":1230,"f":10.6},{"w":1236,"f":10.8},{"w":1242,"f":9.0},{"w":1248,"f":6.5},{"w":1256,"f":4.8},{"w":1264,"f":4.0},{"w":1272,"f":3.5},{"w":1280,"f":3.3},{"w":1288,"f":3.1},{"w":1296,"f":3.5},{"w":1304,"f":3.9},{"w":1312,"f":3.4},{"w":1320,"f":3.2},{"w":1328,"f":3.3},{"w":1336,"f":3.1},{"w":1344,"f":3.3},{"w":1352,"f":3.2},{"w":1360,"f":3.4},{"w":1368,"f":3.3},{"w":1376,"f":3.6},{"w":1384,"f":4.2},{"w":1392,"f":5.3},{"w":1400,"f":6.4},{"w":1408,"f":5.7},{"w":1416,"f":4.5},{"w":1424,"f":3.6},{"w":1432,"f":3.2},{"w":1440,"f":3.0},{"w":1448,"f":2.8},{"w":1456,"f":2.9},{"w":1464,"f":2.7},{"w":1472,"f":2.8},{"w":1480,"f":2.7},{"w":1488,"f":2.9},{"w":1496,"f":2.8},{"w":1504,"f":3.0},{"w":1512,"f":3.2},{"w":1520,"f":3.6},{"w":1528,"f":4.4},{"w":1536,"f":6.5},{"w":1542,"f":12},{"w":1546,"f":20},{"w":1549,"f":28.7},{"w":1553,"f":18},{"w":1558,"f":11},{"w":1564,"f":9.2},{"w":1572,"f":7.0},{"w":1580,"f":5.5},{"w":1588,"f":4.8},{"w":1596,"f":4.5},{"w":1604,"f":4.2},{"w":1612,"f":4.6},{"w":1620,"f":4.3},{"w":1628,"f":4.8},{"w":1636,"f":5.4},{"w":1644,"f":5.6},{"w":1652,"f":5.0},{"w":1660,"f":4.2},{"w":1668,"f":3.6},{"w":1676,"f":3.1},{"w":1684,"f":3.0},{"w":1692,"f":2.8},{"w":1700,"f":2.9},{"w":1710,"f":2.7},{"w":1720,"f":2.8},{"w":1730,"f":2.6},{"w":1740,"f":2.75},{"w":1750,"f":2.5},{"w":1760,"f":2.7},{"w":1770,"f":2.45},{"w":1780,"f":2.6},{"w":1790,"f":2.3},{"w":1800,"f":2.5},{"w":1810,"f":2.25},{"w":1820,"f":2.4},{"w":1830,"f":2.3},{"w":1840,"f":2.5},{"w":1850,"f":2.35},{"w":1860,"f":2.55},{"w":1870,"f":2.6},{"w":1880,"f":2.9},{"w":1890,"f":3.5},{"w":1900,"f":4.3},{"w":1909,"f":4.85},{"w":1918,"f":3.6},{"w":1928,"f":2.6},{"w":1940,"f":2.1},{"w":1952,"f":2.0},{"w":1964,"f":2.1},{"w":1976,"f":1.95},{"w":1990,"f":2.05},{"w":2005,"f":1.9},{"w":2020,"f":2.0},{"w":2035,"f":1.85},{"w":2050,"f":1.95},{"w":2065,"f":1.9},{"w":2080,"f":2.0},{"w":2095,"f":1.95},{"w":2110,"f":2.05},{"w":2125,"f":2.1},{"w":2140,"f":1.95},{"w":2155,"f":1.85},{"w":2170,"f":1.75},{"w":2185,"f":1.68},{"w":2200,"f":1.72},{"w":2215,"f":1.8},{"w":2230,"f":1.75},{"w":2245,"f":1.85},{"w":2260,"f":1.78},{"w":2275,"f":1.88},{"w":2290,"f":1.8},{"w":2305,"f":1.9},{"w":2320,"f":1.85},{"w":2335,"f":1.92},{"w":2350,"f":1.85},{"w":2365,"f":1.9},{"w":2380,"f":1.82},{"w":2395,"f":1.95},{"w":2410,"f":1.88},{"w":2425,"f":1.95},{"w":2440,"f":1.85},{"w":2455,"f":1.92},{"w":2470,"f":1.85},{"w":2485,"f":1.9},{"w":2500,"f":1.8},{"w":2515,"f":1.85},{"w":2530,"f":1.78},{"w":2545,"f":1.82},{"w":2560,"f":1.72},{"w":2575,"f":1.78},{"w":2590,"f":1.65},{"w":2605,"f":1.7},{"w":2620,"f":1.6},{"w":2635,"f":1.65},{"w":2650,"f":1.55},{"w":2665,"f":1.6},{"w":2680,"f":1.5},{"w":2695,"f":1.55},{"w":2710,"f":1.5},{"w":2722,"f":1.17},{"w":2730,"f":1.55},{"w":2745,"f":1.7},{"w":2760,"f":1.9},{"w":2775,"f":2.3},{"w":2788,"f":2.9},{"w":2798,"f":3.16},{"w":2808,"f":2.6},{"w":2820,"f":1.9},{"w":2835,"f":1.65},{"w":2850,"f":1.55},{"w":2865,"f":1.5},{"w":2880,"f":1.4},{"w":2895,"f":1.45},{"w":2910,"f":1.35},{"w":2925,"f":1.3},{"w":2940,"f":1.2},{"w":2955,"f":1.15},{"w":2970,"f":1.25},{"w":2985,"f":1.1},{"w":3000,"f":1.2},{"w":3010,"f":0.84},{"w":3020,"f":1.2},{"w":3035,"f":1.3},{"w":3050,"f":1.15},{"w":3065,"f":1.35},{"w":3080,"f":1.2},{"w":3095,"f":1.4},{"w":3110,"f":1.25},{"w":3125,"f":1.35},{"w":3140,"f":1.2},{"w":3155,"f":1.3},{"w":3170,"f":1.15},{"w":3185,"f":1.25},{"w":3200,"f":1.2},{"w":3220,"f":1.3},{"w":3240,"f":1.18},{"w":3260,"f":1.25},{"w":3280,"f":1.15},{"w":3300,"f":1.22},{"w":3320,"f":1.12},{"w":3340,"f":1.2},{"w":3360,"f":1.1},{"w":3380,"f":1.18},{"w":3400,"f":1.08},{"w":3420,"f":1.15},{"w":3440,"f":1.05},{"w":3460,"f":1.1},{"w":3480,"f":1.02},{"w":3500,"f":1.08},{"w":3520,"f":1.0},{"w":3540,"f":1.05},{"w":3560,"f":0.98},{"w":3580,"f":1.02},{"w":3600,"f":0.96},{"w":3620,"f":1.0},{"w":3640,"f":0.94},{"w":3660,"f":0.98},{"w":3680,"f":0.92},{"w":3700,"f":0.96},{"w":3720,"f":0.9},{"w":3740,"f":0.95},{"w":3760,"f":0.88},{"w":3780,"f":0.92},{"w":3800,"f":0.86},{"w":3820,"f":0.9},{"w":3840,"f":0.85},{"w":3860,"f":0.88},{"w":3877,"f":1.0},{"w":3890,"f":0.84},{"w":3910,"f":0.86},{"w":3930,"f":0.8},{"w":3950,"f":0.83},{"w":3968,"f":0.92},{"w":3985,"f":0.76},{"w":4000,"f":0.72},{"w":4020,"f":0.66},{"w":4040,"f":0.68},{"w":4060,"f":0.74},{"w":4080,"f":0.8},{"w":4100,"f":0.82},{"w":4120,"f":0.66},{"w":4140,"f":0.52},{"w":4160,"f":0.46},{"w":4180,"f":0.5},{"w":4200,"f":0.48},{"w":4220,"f":0.52},{"w":4240,"f":0.5},{"w":4260,"f":0.56},{"w":4280,"f":0.62},{"w":4300,"f":0.72},{"w":4320,"f":0.82},{"w":4340,"f":0.84},{"w":4355,"f":0.7},{"w":4370,"f":0.55},{"w":4390,"f":0.5},{"w":4410,"f":0.56},{"w":4430,"f":0.54},{"w":4450,"f":0.58},{"w":4470,"f":0.55},{"w":4490,"f":0.57},{"w":4510,"f":0.54},{"w":4530,"f":0.58},{"w":4550,"f":0.55},{"w":4570,"f":0.57},{"w":4590,"f":0.54},{"w":4610,"f":0.58},{"w":4630,"f":0.55},{"w":4650,"f":0.57},{"w":4670,"f":0.6},{"w":4690,"f":0.58},{"w":4710,"f":0.55},{"w":4730,"f":0.52},{"w":4750,"f":0.56},{"w":4770,"f":0.62},{"w":4790,"f":0.75},{"w":4810,"f":0.92},{"w":4830,"f":1.1},{"w":4850,"f":1.2},{"w":4865,"f":1.1},{"w":4880,"f":0.75},{"w":4895,"f":0.52},{"w":4910,"f":0.45},{"w":4925,"f":0.4},{"w":4940,"f":0.45},{"w":4950,"f":0.7},{"w":4959,"f":0.97},{"w":4966,"f":0.45},{"w":4980,"f":0.4},{"w":4995,"f":0.5},{"w":5002,"f":1.0},{"w":5007,"f":2.38},{"w":5012,"f":0.5},{"w":5025,"f":0.38},{"w":5040,"f":0.35},{"w":5055,"f":0.33},{"w":5070,"f":0.36},{"w":5085,"f":0.34},{"w":5100,"f":0.37},{"w":5115,"f":0.33},{"w":5130,"f":0.36},{"w":5145,"f":0.34},{"w":5160,"f":0.37},{"w":5175,"f":0.32},{"w":5190,"f":0.35},{"w":5205,"f":0.33},{"w":5220,"f":0.36},{"w":5235,"f":0.31},{"w":5250,"f":0.34},{"w":5265,"f":0.32},{"w":5280,"f":0.35},{"w":5295,"f":0.31},{"w":5310,"f":0.33},{"w":5325,"f":0.3},{"w":5340,"f":0.34},{"w":5355,"f":0.31},{"w":5370,"f":0.33},{"w":5385,"f":0.29},{"w":5400,"f":0.32},{"w":5415,"f":0.3},{"w":5430,"f":0.33},{"w":5445,"f":0.29},{"w":5460,"f":0.32},{"w":5475,"f":0.3},{"w":5490,"f":0.33},{"w":5505,"f":0.29},{"w":5520,"f":0.31},{"w":5535,"f":0.28},{"w":5550,"f":0.32},{"w":5565,"f":0.36}],
"zw":[{"w":1106,"f":0.1},{"w":1108,"f":2.65},{"w":1110,"f":6.4},{"w":1114,"f":7.2},{"w":1118,"f":6.5},{"w":1122,"f":7.4},{"w":1126,"f":6.8},{"w":1130,"f":7.6},{"w":1134,"f":6.6},{"w":1138,"f":7.2},{"w":1142,"f":6.2},{"w":1146,"f":7.0},{"w":1150,"f":6.6},{"w":1154,"f":7.4},{"w":1158,"f":6.4},{"w":1162,"f":7.1},{"w":1166,"f":6.8},{"w":1170,"f":7.3},{"w":1174,"f":6.2},{"w":1178,"f":6.9},{"w":1181,"f":4.1},{"w":1184,"f":0.1},{"w":1187,"f":0.1},{"w":1190,"f":7.4},{"w":1195,"f":9.5},{"w":1200,"f":13.4},{"w":1205,"f":18},{"w":1210,"f":40},{"w":1215,"f":119},{"w":1219,"f":40},{"w":1222,"f":11.6},{"w":1226,"f":14},{"w":1231,"f":20},{"w":1236,"f":22.5},{"w":1241,"f":18},{"w":1246,"f":12},{"w":1252,"f":10.8},{"w":1258,"f":9.0},{"w":1264,"f":7.4},{"w":1270,"f":6.8},{"w":1278,"f":6.3},{"w":1286,"f":6.0},{"w":1294,"f":6.5},{"w":1302,"f":7.6},{"w":1308,"f":8.6},{"w":1314,"f":7.0},{"w":1322,"f":6.2},{"w":1330,"f":6.4},{"w":1338,"f":6.8},{"w":1346,"f":6.1},{"w":1354,"f":6.5},{"w":1362,"f":6.0},{"w":1370,"f":6.4},{"w":1378,"f":7.0},{"w":1386,"f":8.5},{"w":1394,"f":11.5},{"w":1400,"f":13.4},{"w":1407,"f":12.0},{"w":1415,"f":9.0},{"w":1423,"f":7.2},{"w":1431,"f":6.6},{"w":1439,"f":6.2},{"w":1447,"f":6.0},{"w":1455,"f":6.3},{"w":1463,"f":5.9},{"w":1471,"f":6.1},{"w":1479,"f":5.8},{"w":1487,"f":6.2},{"w":1495,"f":6.0},{"w":1503,"f":6.4},{"w":1511,"f":4.1},{"w":1517,"f":6.5},{"w":1524,"f":8.5},{"w":1532,"f":13},{"w":1540,"f":25},{"w":1545,"f":45},{"w":1549,"f":73},{"w":1553,"f":40},{"w":1558,"f":15},{"w":1564,"f":11.6},{"w":1572,"f":10.0},{"w":1580,"f":9.3},{"w":1588,"f":8.8},{"w":1596,"f":8.4},{"w":1604,"f":8.0},{"w":1612,"f":7.8},{"w":1620,"f":7.5},{"w":1626,"f":2.9},{"w":1632,"f":8.5},{"w":1640,"f":12},{"w":1648,"f":13.4},{"w":1656,"f":10},{"w":1664,"f":7.5},{"w":1672,"f":6.5},{"w":1680,"f":6.8},{"w":1690,"f":6.2},{"w":1700,"f":6.5},{"w":1710,"f":6.0},{"w":1720,"f":6.3},{"w":1730,"f":5.8},{"w":1740,"f":6.1},{"w":1750,"f":5.7},{"w":1760,"f":6.0},{"w":1770,"f":5.6},{"w":1780,"f":5.9},{"w":1790,"f":5.5},{"w":1800,"f":5.8},{"w":1810,"f":5.4},{"w":1820,"f":5.7},{"w":1830,"f":5.5},{"w":1840,"f":5.8},{"w":1850,"f":5.6},{"w":1860,"f":6.0},{"w":1870,"f":6.4},{"w":1880,"f":7.2},{"w":1890,"f":8.8},{"w":1900,"f":11},{"w":1909,"f":12.4},{"w":1918,"f":9.0},{"w":1928,"f":6.5},{"w":1940,"f":5.2},{"w":1952,"f":4.9},{"w":1964,"f":5.1},{"w":1976,"f":4.8},{"w":1990,"f":5.0},{"w":2005,"f":4.7},{"w":2020,"f":4.9},{"w":2035,"f":4.6},{"w":2050,"f":4.8},{"w":2065,"f":4.7},{"w":2080,"f":4.9},{"w":2095,"f":4.6},{"w":2110,"f":4.8},{"w":2125,"f":4.5},{"w":2140,"f":4.7},{"w":2155,"f":4.4},{"w":2170,"f":4.6},{"w":2185,"f":4.3},{"w":2200,"f":4.5},{"w":2215,"f":4.3},{"w":2230,"f":4.5},{"w":2245,"f":4.2},{"w":2260,"f":4.4},{"w":2275,"f":4.2},{"w":2290,"f":4.5},{"w":2305,"f":4.3},{"w":2315,"f":3.5},{"w":2325,"f":4.6},{"w":2340,"f":4.9},{"w":2355,"f":5.1},{"w":2370,"f":4.9},{"w":2385,"f":5.2},{"w":2400,"f":5.0},{"w":2415,"f":5.2},{"w":2430,"f":4.9},{"w":2445,"f":5.1},{"w":2460,"f":4.8},{"w":2475,"f":5.0},{"w":2490,"f":3.3},{"w":2505,"f":4.6},{"w":2520,"f":4.5},{"w":2535,"f":4.6},{"w":2550,"f":4.4},{"w":2565,"f":4.5},{"w":2580,"f":4.3},{"w":2595,"f":4.4},{"w":2610,"f":4.2},{"w":2625,"f":4.3},{"w":2640,"f":4.1},{"w":2655,"f":4.2},{"w":2670,"f":4.3},{"w":2685,"f":4.1},{"w":2700,"f":4.3},{"w":2715,"f":4.5},{"w":2724,"f":2.45},{"w":2732,"f":4.4},{"w":2745,"f":4.6},{"w":2760,"f":4.8},{"w":2775,"f":6.0},{"w":2788,"f":9.0},{"w":2798,"f":10.3},{"w":2808,"f":7.0},{"w":2818,"f":4.2},{"w":2830,"f":4.0},{"w":2845,"f":3.8},{"w":2860,"f":3.9},{"w":2875,"f":3.7},{"w":2890,"f":3.8},{"w":2905,"f":3.5},{"w":2920,"f":3.4},{"w":2935,"f":3.1},{"w":2950,"f":2.8},{"w":2965,"f":2.7},{"w":2980,"f":2.65},{"w":2995,"f":2.8},{"w":3010,"f":3.2},{"w":3025,"f":3.8},{"w":3040,"f":3.4},{"w":3055,"f":3.2},{"w":3070,"f":3.0},{"w":3085,"f":2.9},{"w":3100,"f":2.7},{"w":3115,"f":3.0},{"w":3130,"f":2.75},{"w":3145,"f":2.9},{"w":3160,"f":2.7},{"w":3175,"f":2.85},{"w":3190,"f":2.65},{"w":3205,"f":2.8},{"w":3220,"f":2.6},{"w":3240,"f":2.75},{"w":3260,"f":2.55},{"w":3280,"f":2.7},{"w":3300,"f":2.5},{"w":3320,"f":2.65},{"w":3340,"f":2.5},{"w":3355,"f":2.6},{"w":3370,"f":2.5},{"w":3390,"f":2.6},{"w":3410,"f":2.45},{"w":3430,"f":3.5},{"w":3450,"f":2.5},{"w":3470,"f":2.35},{"w":3490,"f":2.45},{"w":3510,"f":2.3},{"w":3530,"f":2.4},{"w":3550,"f":2.25},{"w":3570,"f":2.35},{"w":3590,"f":2.2},{"w":3610,"f":2.3},{"w":3630,"f":2.15},{"w":3650,"f":2.25},{"w":3670,"f":2.1},{"w":3690,"f":2.15},{"w":3710,"f":2.05},{"w":3730,"f":2.1},{"w":3750,"f":2.0},{"w":3770,"f":2.1},{"w":3790,"f":1.95},{"w":3810,"f":2.05},{"w":3830,"f":1.9},{"w":3850,"f":2.0},{"w":3865,"f":1.85},{"w":3877,"f":2.45},{"w":3890,"f":1.75},{"w":3910,"f":1.65},{"w":3930,"f":1.55},{"w":3950,"f":1.6},{"w":3968,"f":1.93},{"w":3985,"f":1.5},{"w":4000,"f":1.35},{"w":4020,"f":1.25},{"w":4040,"f":1.3},{"w":4060,"f":1.45},{"w":4080,"f":1.65},{"w":4100,"f":1.76},{"w":4115,"f":1.4},{"w":4130,"f":1.1},{"w":4145,"f":0.96},{"w":4160,"f":0.94},{"w":4180,"f":1.0},{"w":4200,"f":0.98},{"w":4220,"f":1.02},{"w":4240,"f":0.98},{"w":4260,"f":1.05},{"w":4280,"f":1.2},{"w":4300,"f":1.5},{"w":4320,"f":1.85},{"w":4340,"f":1.97},{"w":4355,"f":1.5},{"w":4370,"f":1.1},{"w":4390,"f":0.95},{"w":4410,"f":0.98},{"w":4430,"f":0.94},{"w":4450,"f":1.0},{"w":4470,"f":0.97},{"w":4490,"f":1.02},{"w":4510,"f":0.95},{"w":4530,"f":1.0},{"w":4550,"f":0.96},{"w":4570,"f":1.01},{"w":4590,"f":0.95},{"w":4610,"f":0.99},{"w":4630,"f":0.94},{"w":4650,"f":0.98},{"w":4670,"f":0.95},{"w":4690,"f":1.0},{"w":4710,"f":0.97},{"w":4740,"f":1.25},{"w":4750,"f":1.0},{"w":4770,"f":1.05},{"w":4790,"f":1.3},{"w":4810,"f":1.7},{"w":4830,"f":2.4},{"w":4850,"f":3.0},{"w":4862,"f":3.07},{"w":4875,"f":2.2},{"w":4890,"f":1.3},{"w":4905,"f":1.0},{"w":4920,"f":0.95},{"w":4935,"f":1.0},{"w":4948,"f":1.5},{"w":4959,"f":2.5},{"w":4966,"f":1.0},{"w":4980,"f":0.9},{"w":4995,"f":1.2},{"w":5002,"f":2.8},{"w":5007,"f":6.4},{"w":5012,"f":1.2},{"w":5025,"f":0.76},{"w":5040,"f":0.8},{"w":5055,"f":0.84},{"w":5070,"f":0.78},{"w":5085,"f":0.82},{"w":5100,"f":0.76},{"w":5115,"f":0.8},{"w":5130,"f":0.74},{"w":5145,"f":0.78},{"w":5160,"f":0.72},{"w":5175,"f":0.76},{"w":5190,"f":0.7},{"w":5205,"f":0.74},{"w":5220,"f":0.68},{"w":5235,"f":0.72},{"w":5250,"f":0.66},{"w":5265,"f":0.7},{"w":5280,"f":0.65},{"w":5295,"f":0.68},{"w":5310,"f":0.62},{"w":5325,"f":0.66},{"w":5340,"f":0.6},{"w":5355,"f":0.64},{"w":5370,"f":0.58},{"w":5385,"f":0.62},{"w":5400,"f":0.57},{"w":5415,"f":0.6},{"w":5430,"f":0.55},{"w":5445,"f":0.59},{"w":5460,"f":0.56},{"w":5475,"f":0.58},{"w":5490,"f":0.54},{"w":5505,"f":0.57},{"w":5520,"f":0.55},{"w":5535,"f":0.58},{"w":5550,"f":0.54},{"w":5560,"f":1.12}]
},
"vconcat":[
{"width":647,"height":134.5,"title":{"text":"Arp 151","fontWeight":"normal"},
 "layer":[
  {"data":{"name":"arp"},"mark":{"type":"line","clip":true,"color":"#1c1c1c","strokeWidth":1},
   "encoding":{"x":{"field":"w","type":"quantitative","scale":{"type":"log","domain":[1000,6000],"nice":false},"axis":null},"y":{"field":"f","type":"quantitative","scale":{"type":"log","domain":[0.1,84],"nice":false},"axis":null}}},
  {"data":{"name":"xt"},"mark":{"type":"tick","orient":"vertical","clip":true,"color":"#222","thickness":1,"opacity":1},
   "encoding":{"x":{"field":"v","type":"quantitative","scale":{"type":"log","domain":[1000,6000],"nice":false},"axis":null},"y":{"datum":84,"type":"quantitative","scale":{"type":"log","domain":[0.1,84],"nice":false},"axis":null},"size":{"condition":{"test":"datum.v % 1000 === 0","value":16},"value":9}}},
  {"data":{"name":"xt"},"mark":{"type":"tick","orient":"vertical","clip":true,"color":"#222","thickness":1,"opacity":1},
   "encoding":{"x":{"field":"v","type":"quantitative","scale":{"type":"log","domain":[1000,6000],"nice":false},"axis":null},"y":{"datum":0.1,"type":"quantitative","scale":{"type":"log","domain":[0.1,84],"nice":false},"axis":null},"size":{"condition":{"test":"datum.v % 1000 === 0","value":16},"value":9}}},
  {"data":{"name":"yt"},"mark":{"type":"tick","orient":"horizontal","clip":true,"color":"#222","thickness":1,"opacity":1},
   "encoding":{"y":{"field":"v","type":"quantitative","scale":{"type":"log","domain":[0.1,84],"nice":false},"axis":null},"x":{"datum":1000,"type":"quantitative","scale":{"type":"log","domain":[1000,6000],"nice":false},"axis":null},"size":{"condition":{"test":"indexof([0.1,1,10,100], datum.v) >= 0","value":16},"value":9}}},
  {"data":{"name":"yt"},"mark":{"type":"tick","orient":"horizontal","clip":true,"color":"#222","thickness":1,"opacity":1},
   "encoding":{"y":{"field":"v","type":"quantitative","scale":{"type":"log","domain":[0.1,84],"nice":false},"axis":null},"x":{"datum":6000,"type":"quantitative","scale":{"type":"log","domain":[1000,6000],"nice":false},"axis":null},"size":{"condition":{"test":"indexof([0.1,1,10,100], datum.v) >= 0","value":16},"value":9}}},
  {"data":{"name":"ylab"},"transform":[{"filter":{"field":"v","range":[0.1,84]}}],"mark":{"type":"text","align":"right","baseline":"middle","dx":-4,"font":"Liberation Serif","fontSize":17.5,"color":"#111"},
   "encoding":{"y":{"field":"v","type":"quantitative","scale":{"type":"log","domain":[0.1,84],"nice":false},"axis":null},"x":{"datum":1000,"type":"quantitative","scale":{"type":"log","domain":[1000,6000],"nice":false},"axis":null},"text":{"field":"v","type":"quantitative","format":"~g"}}}
 ]},
{"width":647,"height":134.5,"title":{"text":"Mrk 1310","fontWeight":"normal"},
 "layer":[
  {"data":{"name":"mrk1310"},"mark":{"type":"line","clip":true,"color":"#1c1c1c","strokeWidth":1},
   "encoding":{"x":{"field":"w","type":"quantitative","scale":{"type":"log","domain":[1000,6000],"nice":false},"axis":null},"y":{"field":"f","type":"quantitative","scale":{"type":"log","domain":[0.052,37.5],"nice":false},"axis":null}}},
  {"data":{"name":"xt"},"mark":{"type":"tick","orient":"vertical","clip":true,"color":"#222","thickness":1,"opacity":1},
   "encoding":{"x":{"field":"v","type":"quantitative","scale":{"type":"log","domain":[1000,6000],"nice":false},"axis":null},"y":{"datum":37.5,"type":"quantitative","scale":{"type":"log","domain":[0.052,37.5],"nice":false},"axis":null},"size":{"condition":{"test":"datum.v % 1000 === 0","value":16},"value":9}}},
  {"data":{"name":"xt"},"mark":{"type":"tick","orient":"vertical","clip":true,"color":"#222","thickness":1,"opacity":1},
   "encoding":{"x":{"field":"v","type":"quantitative","scale":{"type":"log","domain":[1000,6000],"nice":false},"axis":null},"y":{"datum":0.052,"type":"quantitative","scale":{"type":"log","domain":[0.052,37.5],"nice":false},"axis":null},"size":{"condition":{"test":"datum.v % 1000 === 0","value":16},"value":9}}},
  {"data":{"name":"yt"},"mark":{"type":"tick","orient":"horizontal","clip":true,"color":"#222","thickness":1,"opacity":1},
   "encoding":{"y":{"field":"v","type":"quantitative","scale":{"type":"log","domain":[0.052,37.5],"nice":false},"axis":null},"x":{"datum":1000,"type":"quantitative","scale":{"type":"log","domain":[1000,6000],"nice":false},"axis":null},"size":{"condition":{"test":"indexof([0.1,1,10,100], datum.v) >= 0","value":16},"value":9}}},
  {"data":{"name":"yt"},"mark":{"type":"tick","orient":"horizontal","clip":true,"color":"#222","thickness":1,"opacity":1},
   "encoding":{"y":{"field":"v","type":"quantitative","scale":{"type":"log","domain":[0.052,37.5],"nice":false},"axis":null},"x":{"datum":6000,"type":"quantitative","scale":{"type":"log","domain":[1000,6000],"nice":false},"axis":null},"size":{"condition":{"test":"indexof([0.1,1,10,100], datum.v) >= 0","value":16},"value":9}}},
  {"data":{"name":"ylab"},"transform":[{"filter":{"field":"v","range":[0.052,37.5]}}],"mark":{"type":"text","align":"right","baseline":"middle","dx":-4,"font":"Liberation Serif","fontSize":17.5,"color":"#111"},
   "encoding":{"y":{"field":"v","type":"quantitative","scale":{"type":"log","domain":[0.052,37.5],"nice":false},"axis":null},"x":{"datum":1000,"type":"quantitative","scale":{"type":"log","domain":[1000,6000],"nice":false},"axis":null},"text":{"field":"v","type":"quantitative","format":"~g"}}}
 ]},
{"width":647,"height":134.5,"title":{"text":"Mrk 50","fontWeight":"normal"},
 "layer":[
  {"data":{"name":"mrk50"},"mark":{"type":"line","clip":true,"color":"#1c1c1c","strokeWidth":1},
   "encoding":{"x":{"field":"w","type":"quantitative","scale":{"type":"log","domain":[1000,6000],"nice":false},"axis":null},"y":{"field":"f","type":"quantitative","scale":{"type":"log","domain":[0.5,100],"nice":false},"axis":null}}},
  {"data":{"name":"xt"},"mark":{"type":"tick","orient":"vertical","clip":true,"color":"#222","thickness":1,"opacity":1},
   "encoding":{"x":{"field":"v","type":"quantitative","scale":{"type":"log","domain":[1000,6000],"nice":false},"axis":null},"y":{"datum":100,"type":"quantitative","scale":{"type":"log","domain":[0.5,100],"nice":false},"axis":null},"size":{"condition":{"test":"datum.v % 1000 === 0","value":16},"value":9}}},
  {"data":{"name":"xt"},"mark":{"type":"tick","orient":"vertical","clip":true,"color":"#222","thickness":1,"opacity":1},
   "encoding":{"x":{"field":"v","type":"quantitative","scale":{"type":"log","domain":[1000,6000],"nice":false},"axis":null},"y":{"datum":0.5,"type":"quantitative","scale":{"type":"log","domain":[0.5,100],"nice":false},"axis":null},"size":{"condition":{"test":"datum.v % 1000 === 0","value":16},"value":9}}},
  {"data":{"name":"yt"},"mark":{"type":"tick","orient":"horizontal","clip":true,"color":"#222","thickness":1,"opacity":1},
   "encoding":{"y":{"field":"v","type":"quantitative","scale":{"type":"log","domain":[0.5,100],"nice":false},"axis":null},"x":{"datum":1000,"type":"quantitative","scale":{"type":"log","domain":[1000,6000],"nice":false},"axis":null},"size":{"condition":{"test":"indexof([0.1,1,10,100], datum.v) >= 0","value":16},"value":9}}},
  {"data":{"name":"yt"},"mark":{"type":"tick","orient":"horizontal","clip":true,"color":"#222","thickness":1,"opacity":1},
   "encoding":{"y":{"field":"v","type":"quantitative","scale":{"type":"log","domain":[0.5,100],"nice":false},"axis":null},"x":{"datum":6000,"type":"quantitative","scale":{"type":"log","domain":[1000,6000],"nice":false},"axis":null},"size":{"condition":{"test":"indexof([0.1,1,10,100], datum.v) >= 0","value":16},"value":9}}},
  {"data":{"name":"ylab"},"transform":[{"filter":{"field":"v","range":[0.5,100]}}],"mark":{"type":"text","align":"right","baseline":"middle","dx":-4,"font":"Liberation Serif","fontSize":17.5,"color":"#111"},
   "encoding":{"y":{"field":"v","type":"quantitative","scale":{"type":"log","domain":[0.5,100],"nice":false},"axis":null},"x":{"datum":1000,"type":"quantitative","scale":{"type":"log","domain":[1000,6000],"nice":false},"axis":null},"text":{"field":"v","type":"quantitative","format":"~g"}}},
  {"data":{"values":[{}]},"mark":{"type":"text","angle":270,"align":"center","baseline":"alphabetic","font":"Liberation Serif","fontSize":17.5,"color":"#111"},
   "encoding":{"y":{"datum":1.73,"type":"quantitative","scale":{"type":"log","domain":[0.5,100],"nice":false},"axis":null},"x":{"datum":900,"type":"quantitative","scale":{"type":"log","domain":[1000,6000],"nice":false},"axis":null},"text":{"value":"Fλ (10⁻¹⁵ erg s⁻¹ cm⁻² Å⁻¹)"}}},
  {"data":{"name":"lines"},"mark":{"type":"text","angle":270,"align":"center","baseline":"middle","font":"Liberation Serif","fontSize":12.5,"color":"#b5b5b5"},
   "encoding":{"x":{"field":"w","type":"quantitative","scale":{"type":"log","domain":[1000,6000],"nice":false},"axis":null},
    "y":{"field":"f","type":"quantitative","scale":{"type":"log","domain":[0.5,100],"nice":false},"axis":null},
    "text":{"field":"t"}}}
 ]},
{"width":647,"height":134.5,"title":{"text":"NGC 6814","fontWeight":"normal"},
 "layer":[
  {"data":{"name":"ngc"},"mark":{"type":"line","clip":true,"color":"#1c1c1c","strokeWidth":1},
   "encoding":{"x":{"field":"w","type":"quantitative","scale":{"type":"log","domain":[1000,6000],"nice":false},"axis":null},"y":{"field":"f","type":"quantitative","scale":{"type":"log","domain":[0.48,52.5],"nice":false},"axis":null}}},
  {"data":{"name":"xt"},"mark":{"type":"tick","orient":"vertical","clip":true,"color":"#222","thickness":1,"opacity":1},
   "encoding":{"x":{"field":"v","type":"quantitative","scale":{"type":"log","domain":[1000,6000],"nice":false},"axis":null},"y":{"datum":52.5,"type":"quantitative","scale":{"type":"log","domain":[0.48,52.5],"nice":false},"axis":null},"size":{"condition":{"test":"datum.v % 1000 === 0","value":16},"value":9}}},
  {"data":{"name":"xt"},"mark":{"type":"tick","orient":"vertical","clip":true,"color":"#222","thickness":1,"opacity":1},
   "encoding":{"x":{"field":"v","type":"quantitative","scale":{"type":"log","domain":[1000,6000],"nice":false},"axis":null},"y":{"datum":0.48,"type":"quantitative","scale":{"type":"log","domain":[0.48,52.5],"nice":false},"axis":null},"size":{"condition":{"test":"datum.v % 1000 === 0","value":16},"value":9}}},
  {"data":{"name":"yt"},"mark":{"type":"tick","orient":"horizontal","clip":true,"color":"#222","thickness":1,"opacity":1},
   "encoding":{"y":{"field":"v","type":"quantitative","scale":{"type":"log","domain":[0.48,52.5],"nice":false},"axis":null},"x":{"datum":1000,"type":"quantitative","scale":{"type":"log","domain":[1000,6000],"nice":false},"axis":null},"size":{"condition":{"test":"indexof([0.1,1,10,100], datum.v) >= 0","value":16},"value":9}}},
  {"data":{"name":"yt"},"mark":{"type":"tick","orient":"horizontal","clip":true,"color":"#222","thickness":1,"opacity":1},
   "encoding":{"y":{"field":"v","type":"quantitative","scale":{"type":"log","domain":[0.48,52.5],"nice":false},"axis":null},"x":{"datum":6000,"type":"quantitative","scale":{"type":"log","domain":[1000,6000],"nice":false},"axis":null},"size":{"condition":{"test":"indexof([0.1,1,10,100], datum.v) >= 0","value":16},"value":9}}},
  {"data":{"name":"ylab"},"transform":[{"filter":{"field":"v","range":[0.48,52.5]}}],"mark":{"type":"text","align":"right","baseline":"middle","dx":-4,"font":"Liberation Serif","fontSize":17.5,"color":"#111"},
   "encoding":{"y":{"field":"v","type":"quantitative","scale":{"type":"log","domain":[0.48,52.5],"nice":false},"axis":null},"x":{"datum":1000,"type":"quantitative","scale":{"type":"log","domain":[1000,6000],"nice":false},"axis":null},"text":{"field":"v","type":"quantitative","format":"~g"}}}
 ]},
{"width":647,"height":134.5,"title":{"text":"SBS 1116+583A","fontWeight":"normal"},
 "layer":[
  {"data":{"name":"sbs"},"mark":{"type":"line","clip":true,"color":"#1c1c1c","strokeWidth":1},
   "encoding":{"x":{"field":"w","type":"quantitative","scale":{"type":"log","domain":[1000,6000],"nice":false},"axis":null},"y":{"field":"f","type":"quantitative","scale":{"type":"log","domain":[0.21,65],"nice":false},"axis":null}}},
  {"data":{"name":"xt"},"mark":{"type":"tick","orient":"vertical","clip":true,"color":"#222","thickness":1,"opacity":1},
   "encoding":{"x":{"field":"v","type":"quantitative","scale":{"type":"log","domain":[1000,6000],"nice":false},"axis":null},"y":{"datum":65,"type":"quantitative","scale":{"type":"log","domain":[0.21,65],"nice":false},"axis":null},"size":{"condition":{"test":"datum.v % 1000 === 0","value":16},"value":9}}},
  {"data":{"name":"xt"},"mark":{"type":"tick","orient":"vertical","clip":true,"color":"#222","thickness":1,"opacity":1},
   "encoding":{"x":{"field":"v","type":"quantitative","scale":{"type":"log","domain":[1000,6000],"nice":false},"axis":null},"y":{"datum":0.21,"type":"quantitative","scale":{"type":"log","domain":[0.21,65],"nice":false},"axis":null},"size":{"condition":{"test":"datum.v % 1000 === 0","value":16},"value":9}}},
  {"data":{"name":"yt"},"mark":{"type":"tick","orient":"horizontal","clip":true,"color":"#222","thickness":1,"opacity":1},
   "encoding":{"y":{"field":"v","type":"quantitative","scale":{"type":"log","domain":[0.21,65],"nice":false},"axis":null},"x":{"datum":1000,"type":"quantitative","scale":{"type":"log","domain":[1000,6000],"nice":false},"axis":null},"size":{"condition":{"test":"indexof([0.1,1,10,100], datum.v) >= 0","value":16},"value":9}}},
  {"data":{"name":"yt"},"mark":{"type":"tick","orient":"horizontal","clip":true,"color":"#222","thickness":1,"opacity":1},
   "encoding":{"y":{"field":"v","type":"quantitative","scale":{"type":"log","domain":[0.21,65],"nice":false},"axis":null},"x":{"datum":6000,"type":"quantitative","scale":{"type":"log","domain":[1000,6000],"nice":false},"axis":null},"size":{"condition":{"test":"indexof([0.1,1,10,100], datum.v) >= 0","value":16},"value":9}}},
  {"data":{"name":"ylab"},"transform":[{"filter":{"field":"v","range":[0.21,65]}}],"mark":{"type":"text","align":"right","baseline":"middle","dx":-4,"font":"Liberation Serif","fontSize":17.5,"color":"#111"},
   "encoding":{"y":{"field":"v","type":"quantitative","scale":{"type":"log","domain":[0.21,65],"nice":false},"axis":null},"x":{"datum":1000,"type":"quantitative","scale":{"type":"log","domain":[1000,6000],"nice":false},"axis":null},"text":{"field":"v","type":"quantitative","format":"~g"}}}
 ]},
{"width":647,"height":134.5,"title":{"text":"Zw 229−015","fontWeight":"normal"},
 "layer":[
  {"data":{"name":"zw"},"mark":{"type":"line","clip":true,"color":"#1c1c1c","strokeWidth":1},
   "encoding":{"x":{"field":"w","type":"quantitative","scale":{"type":"log","domain":[1000,6000],"nice":false},"axis":null},"y":{"field":"f","type":"quantitative","scale":{"type":"log","domain":[0.39,152],"nice":false},"axis":null}}},
  {"data":{"name":"xt"},"mark":{"type":"tick","orient":"vertical","clip":true,"color":"#222","thickness":1,"opacity":1},
   "encoding":{"x":{"field":"v","type":"quantitative","scale":{"type":"log","domain":[1000,6000],"nice":false},"axis":null},"y":{"datum":152,"type":"quantitative","scale":{"type":"log","domain":[0.39,152],"nice":false},"axis":null},"size":{"condition":{"test":"datum.v % 1000 === 0","value":16},"value":9}}},
  {"data":{"name":"xt"},"mark":{"type":"tick","orient":"vertical","clip":true,"color":"#222","thickness":1,"opacity":1},
   "encoding":{"x":{"field":"v","type":"quantitative","scale":{"type":"log","domain":[1000,6000],"nice":false},"axis":null},"y":{"datum":0.39,"type":"quantitative","scale":{"type":"log","domain":[0.39,152],"nice":false},"axis":null},"size":{"condition":{"test":"datum.v % 1000 === 0","value":16},"value":9}}},
  {"data":{"name":"yt"},"mark":{"type":"tick","orient":"horizontal","clip":true,"color":"#222","thickness":1,"opacity":1},
   "encoding":{"y":{"field":"v","type":"quantitative","scale":{"type":"log","domain":[0.39,152],"nice":false},"axis":null},"x":{"datum":1000,"type":"quantitative","scale":{"type":"log","domain":[1000,6000],"nice":false},"axis":null},"size":{"condition":{"test":"indexof([0.1,1,10,100], datum.v) >= 0","value":16},"value":9}}},
  {"data":{"name":"yt"},"mark":{"type":"tick","orient":"horizontal","clip":true,"color":"#222","thickness":1,"opacity":1},
   "encoding":{"y":{"field":"v","type":"quantitative","scale":{"type":"log","domain":[0.39,152],"nice":false},"axis":null},"x":{"datum":6000,"type":"quantitative","scale":{"type":"log","domain":[1000,6000],"nice":false},"axis":null},"size":{"condition":{"test":"indexof([0.1,1,10,100], datum.v) >= 0","value":16},"value":9}}},
  {"data":{"name":"ylab"},"transform":[{"filter":{"field":"v","range":[0.39,152]}}],"mark":{"type":"text","align":"right","baseline":"middle","dx":-4,"font":"Liberation Serif","fontSize":17.5,"color":"#111"},
   "encoding":{"y":{"field":"v","type":"quantitative","scale":{"type":"log","domain":[0.39,152],"nice":false},"axis":null},"x":{"datum":1000,"type":"quantitative","scale":{"type":"log","domain":[1000,6000],"nice":false},"axis":null},"text":{"field":"v","type":"quantitative","format":"~g"}}},
  {"data":{"name":"xlab"},"mark":{"type":"text","align":"center","baseline":"top","dy":17,"font":"Liberation Serif","fontSize":17.5,"color":"#111"},
   "encoding":{"x":{"field":"v","type":"quantitative","scale":{"type":"log","domain":[1000,6000],"nice":false},"axis":null},"y":{"datum":0.39,"type":"quantitative","scale":{"type":"log","domain":[0.39,152],"nice":false},"axis":null},"text":{"field":"v","type":"quantitative","format":"d"}}},
  {"data":{"values":[{}]},"mark":{"type":"text","align":"center","baseline":"top","dy":39,"font":"Liberation Serif","fontSize":18,"color":"#111"},
   "encoding":{"x":{"datum":2449,"type":"quantitative","scale":{"type":"log","domain":[1000,6000],"nice":false},"axis":null},"y":{"datum":0.39,"type":"quantitative","scale":{"type":"log","domain":[0.39,152],"nice":false},"axis":null},"text":{"value":"Rest Wavelength (Å)"}}}
 ]}
]
}
